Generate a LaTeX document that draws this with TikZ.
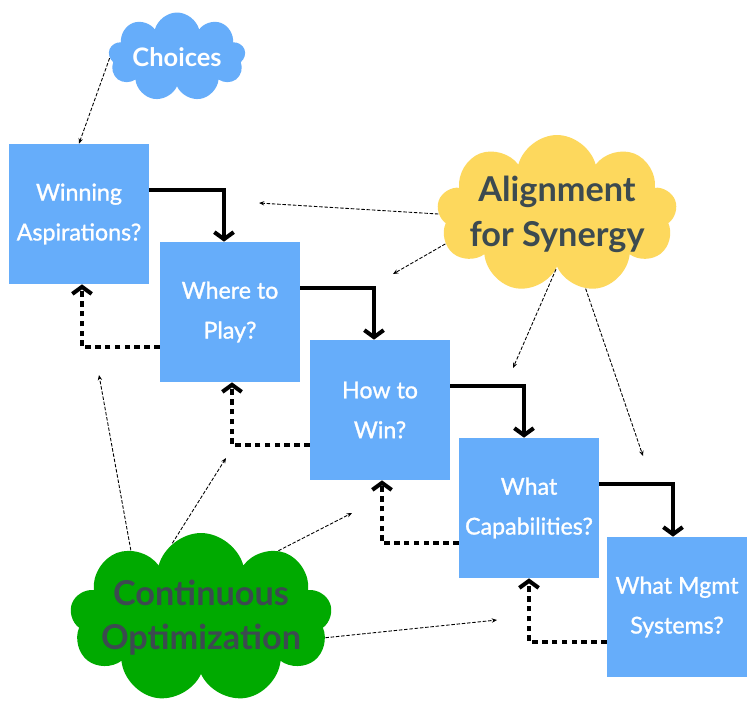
\documentclass[tikz,border=0pt]{standalone}
\usepackage{fontspec}
\setmainfont{Lato}
\newfontfamily\boxfont{Lato}[FakeBold=1.2]
\usetikzlibrary{shapes.symbols,arrows.meta}
\definecolor{boxblue}{RGB}{102,173,250}
\definecolor{synyellow}{RGB}{253,216,93}
\definecolor{optgreen}{RGB}{0,170,0}
\definecolor{cloudtext}{RGB}{60,74,80}

\begin{document}
\begin{tikzpicture}[x=0.02cm, y=-0.02cm,
  box/.style={rectangle, fill=boxblue, minimum size=2.8cm, inner sep=0pt, text=white, align=center,
    font=\boxfont\fontsize{13.2}{22.7}\selectfont},
  puff/.style={cloud, cloud puffs=9, cloud ignores aspect, inner sep=0pt},
  flow/.style={line width=2.3pt, -{Straight Barb[length=4pt,width=11pt]}},
  back/.style={line width=2.3pt, dash pattern=on 3.2pt off 2.4pt, -{Straight Barb[length=4pt,width=11pt]}},
  link/.style={line width=0.5pt, dash pattern=on 2pt off 1pt, -{Stealth[length=3pt,width=2.5pt]}}]
  \fill[white] (0,0) rectangle (756,714);
  \useasboundingbox (0,0) rectangle (756,714);

  % Nodes
  \draw (79,214)  node(wa) [box] {Winning\\Aspirations?};
  \draw (230,312) node(wp) [box] {Where to\\Play?};
  \draw (380,410) node(hw) [box] {How to\\Win?};
  \draw (529,508) node(wc) [box] {What\\Capabilities?};
  \draw (677,607) node(wm) [box] {What Mgmt\\Systems?};

  % Clouds
  \draw (177,57)  node(ch) [puff, fill=boxblue, minimum width=2.74cm, minimum height=1.78cm,
    label={[text=white, font=\bfseries\fontsize{14.5}{17}\selectfont]center:Choices}] {};
  \draw (557,214) node(al) [puff, fill=synyellow, minimum width=4.8cm, minimum height=3.16cm,
    label={[align=center, text=cloudtext, font=\bfseries\fontsize{19.5}{25.5}\selectfont]center:Alignment\\for Synergy}] {};
  \draw (201,618) node(co) [puff, fill=optgreen, minimum width=5.24cm, minimum height=3.4cm,
    label={[align=center, text=cloudtext, font=\bfseries\fontsize{19.5}{25}\selectfont]center:Continuous\\Optimization}] {};

  % Free ends
  \coordinate (a1) at (259,203);
  \coordinate (a2) at (393,274);
  \coordinate (a3) at (513,368);
  \coordinate (a4) at (643,456);
  \coordinate (c1) at (99,375);
  \coordinate (c2) at (226,458);
  \coordinate (c3) at (352,513);
  \coordinate (c4) at (497,620);

  % Forward steps
  \draw[flow] ([shift={(0,-24)}]wa.east) -| ([shift={(-6,0)}]wp.north);
  \draw[flow] ([shift={(0,-24)}]wp.east) -| ([shift={(-6,0)}]hw.north);
  \draw[flow] ([shift={(0,-24)}]hw.east) -| ([shift={(-5,0)}]wc.north);
  \draw[flow] ([shift={(0,-24)}]wc.east) -| ([shift={(-4,0)}]wm.north);

  % Feedback steps
  \draw[back] ([shift={(0,35)}]wp.west) -| ([shift={(3,0)}]wa.south);
  \draw[back] ([shift={(0,35)}]hw.west) -| ([shift={(2,0)}]wp.south);
  \draw[back] ([shift={(0,35)}]wc.west) -| ([shift={(2,0)}]hw.south);
  \draw[back] ([shift={(0,35)}]wm.west) -| ([shift={(0,0)}]wc.south);

  % Influences
  \draw[link] (ch.181) -- (wa.north);
  \draw[link] (al.180) -- (a1);
  \draw[link] (al.195) -- (a2);
  \draw[link] (al.269) -- (a3);
  \draw[link] (al.291) -- (a4);
  \draw[link] (co.136) -- (c1);
  \draw[link] (co.111) -- (c2);
  \draw[link] (co.41)  -- (c3);
  \draw[link] (co.351) -- (c4);

\end{tikzpicture}
\end{document}
